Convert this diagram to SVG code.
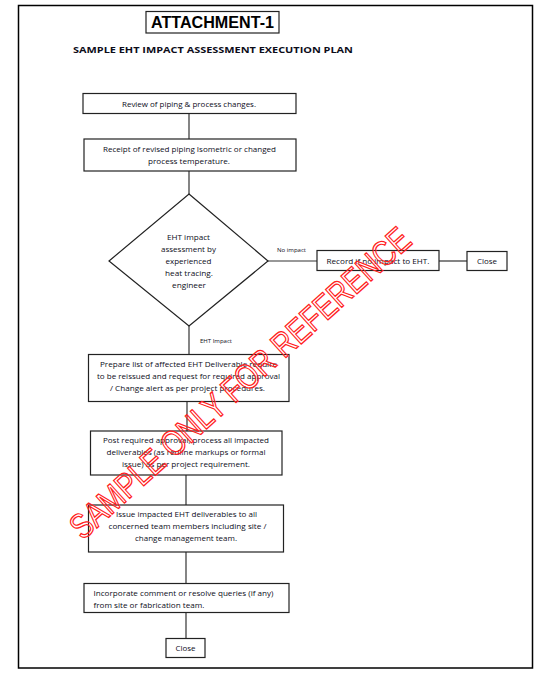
<svg xmlns="http://www.w3.org/2000/svg" width="553" height="678" viewBox="0 0 553 678">
<style>
.box{fill:#fff;stroke:#222;stroke-width:1.2}
.con{stroke:#333;stroke-width:1.2;fill:none}
.t{font-family:"Open Sans","Liberation Sans",sans-serif;font-size:7.6px;font-weight:500;fill:#0d0d1a;text-anchor:middle}
.tl{font-family:"Open Sans","Liberation Sans",sans-serif;font-size:7.6px;font-weight:500;fill:#0d0d1a}
.s{font-family:"Open Sans","Liberation Sans",sans-serif;font-size:5px;fill:#0d0d1a}
</style>
<rect width="553" height="678" fill="#fff"/>
<rect x="18.5" y="5.5" width="514" height="662.5" fill="none" stroke="#000" stroke-width="1.5"/>
<g id="title">
<rect x="146" y="11.5" width="133" height="21.5" fill="#fff" stroke="#222" stroke-width="1.2"/>
<text x="212.5" y="28" font-family="Liberation Sans,Arial,sans-serif" font-weight="bold" font-size="16.5" text-anchor="middle" textLength="123" lengthAdjust="spacingAndGlyphs" fill="#000">ATTACHMENT-1</text>
</g>
<g id="subtitle">
<text x="73" y="53" font-family="Open Sans,Liberation Sans,sans-serif" font-weight="bold" font-size="9.5" textLength="280" lengthAdjust="spacingAndGlyphs" fill="#0d0d1a">SAMPLE EHT IMPACT ASSESSMENT EXECUTION PLAN</text>
</g>
<g id="connectors">
<line class="con" x1="189" y1="113" x2="189" y2="139"/>
<line class="con" x1="189" y1="171" x2="189" y2="194"/>
<line class="con" x1="268" y1="261" x2="317" y2="261"/>
<line class="con" x1="439" y1="261" x2="467" y2="261"/>
<line class="con" x1="189" y1="326" x2="189" y2="354"/>
<line class="con" x1="187" y1="401" x2="187" y2="431"/>
<line class="con" x1="186" y1="475" x2="186" y2="505"/>
<line class="con" x1="186" y1="552" x2="186" y2="584"/>
<line class="con" x1="186" y1="613" x2="186" y2="638"/>
<text class="s" x="277" y="252" textLength="29" lengthAdjust="spacingAndGlyphs">No impact</text>
<text class="s" x="200" y="343" textLength="32" lengthAdjust="spacingAndGlyphs">EHT Impact</text>
</g>
<g id="n1">
<rect class="box" x="83" y="93.5" width="213" height="20"/>
<text class="t" x="189" y="106.5" textLength="134" lengthAdjust="spacingAndGlyphs">Review of piping &amp; process changes.</text>
</g>
<g id="n2">
<rect class="box" x="84" y="139" width="212" height="32"/>
<text class="t" x="189.5" y="152" textLength="173" lengthAdjust="spacingAndGlyphs">Receipt of revised piping Isometric or changed</text>
<text class="t" x="189" y="164" textLength="82" lengthAdjust="spacingAndGlyphs">process temperature.</text>
</g>
<g id="n3">
<polygon class="box" points="189,194 268,261 189,326 109,261"/>
<text class="t" x="188.5" y="240" textLength="43" lengthAdjust="spacingAndGlyphs">EHT impact</text>
<text class="t" x="188.5" y="252" textLength="55" lengthAdjust="spacingAndGlyphs">assessment by</text>
<text class="t" x="188.5" y="264" textLength="46" lengthAdjust="spacingAndGlyphs">experienced</text>
<text class="t" x="189" y="276" textLength="48" lengthAdjust="spacingAndGlyphs">heat tracing.</text>
<text class="t" x="189" y="288" textLength="34" lengthAdjust="spacingAndGlyphs">engineer</text>
</g>
<g id="n4">
<rect class="box" x="317" y="250.5" width="122" height="20"/>
<text class="t" x="378" y="263.5" textLength="103" lengthAdjust="spacingAndGlyphs">Record if no impact to EHT.</text>
</g>
<g id="n5">
<rect class="box" x="467" y="251.5" width="40" height="19"/>
<text class="t" x="487" y="264" textLength="20" lengthAdjust="spacingAndGlyphs">Close</text>
</g>
<g id="n6">
<rect class="box" x="88.5" y="354.5" width="200.5" height="47"/>
<text class="t" x="188.5" y="367" textLength="177" lengthAdjust="spacingAndGlyphs">Prepare list of affected EHT Deliverable require</text>
<text class="t" x="188.5" y="379" textLength="183" lengthAdjust="spacingAndGlyphs">to be reissued and request for required approval</text>
<text class="t" x="187.5" y="391" textLength="155" lengthAdjust="spacingAndGlyphs">/ Change alert as per project procedures.</text>
</g>
<g id="n7">
<rect class="box" x="90.5" y="431" width="191.5" height="44"/>
<text class="t" x="186" y="443" textLength="166" lengthAdjust="spacingAndGlyphs">Post required approval, process all impacted</text>
<text class="t" x="186" y="455" textLength="159" lengthAdjust="spacingAndGlyphs">deliverables (as redline markups or formal</text>
<text class="t" x="186" y="467" textLength="128" lengthAdjust="spacingAndGlyphs">issue) as per project requirement.</text>
</g>
<g id="n8">
<rect class="box" x="88.5" y="505" width="195" height="47"/>
<text class="t" x="186.5" y="517" textLength="141" lengthAdjust="spacingAndGlyphs">Issue impacted EHT deliverables to all</text>
<text class="t" x="187.5" y="529" textLength="158" lengthAdjust="spacingAndGlyphs">concerned team members including site /</text>
<text class="t" x="186" y="541" textLength="102" lengthAdjust="spacingAndGlyphs">change management team.</text>
</g>
<g id="n9">
<rect class="box" x="84" y="583.5" width="205" height="29"/>
<text class="tl" x="93.5" y="596" textLength="180" lengthAdjust="spacingAndGlyphs">Incorporate comment or resolve queries (if any)</text>
<text class="tl" x="93.5" y="607.5" textLength="111" lengthAdjust="spacingAndGlyphs">from site or fabrication team.</text>
</g>
<g id="n10">
<rect class="box" x="166" y="638.5" width="39" height="19"/>
<text class="t" x="185.5" y="651" textLength="20" lengthAdjust="spacingAndGlyphs">Close</text>
</g>
<g id="watermark">
<text x="240" y="395" transform="rotate(-42 240 383)" font-family="Liberation Sans,Arial,sans-serif" font-size="35" text-anchor="middle" textLength="445" lengthAdjust="spacingAndGlyphs" fill="none" stroke="#ff2020" stroke-width="1.3">SAMPLE ONLY FOR REFERENCE</text>
</g>
</svg>
